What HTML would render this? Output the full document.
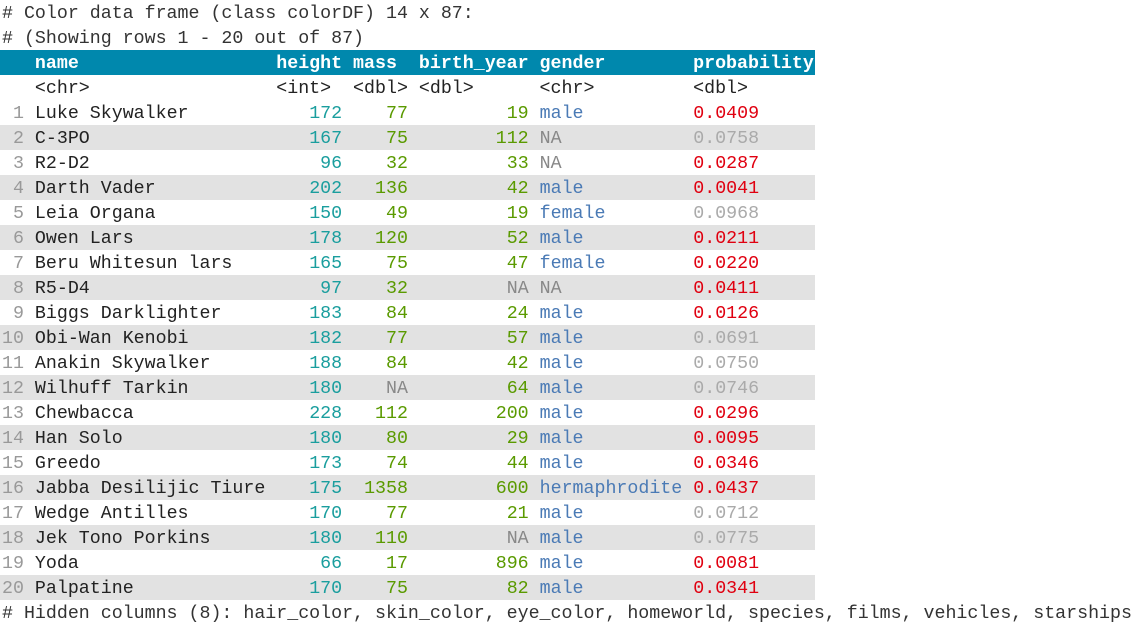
<!DOCTYPE html>
<html><head><meta charset="utf-8"><style>
body{margin:0;background:#fff;width:1142px;height:627px;overflow:hidden}
pre{margin:0;position:absolute;left:2px;top:0;font-family:"Liberation Mono","DejaVu Sans Mono",monospace;font-size:18.3px;line-height:28px;color:#222}
.l{display:block;height:25px;width:813px;margin-left:-2px;padding-left:2px;overflow:visible}
.s{background:#e2e2e2}
.h{background:#0088ad;color:#fff;font-weight:bold}
.n{color:#999}.t{color:#1a9e9e}.g{color:#5a9a00}.b{color:#4a7ab5}.r{color:#e00010}.x{color:#aaa}.na{color:#888}
.w{width:1140px}.c{color:#333}
</style></head><body><pre><span class="l w c"># Color data frame (class colorDF) 14 x 87:</span><span class="l w c"># (Showing rows 1 - 20 out of 87)</span><span class="l h">   name                  height mass  birth_year gender        probability</span><span class="l">   &lt;chr&gt;                 &lt;int&gt;  &lt;dbl&gt; &lt;dbl&gt;      &lt;chr&gt;         &lt;dbl&gt;</span><span class="l"><span class="n"> 1</span> Luke Skywalker           <span class="t">172</span>    <span class="g">77</span>         <span class="g">19</span> <span class="b">male</span>          <span class="r">0.0409</span></span><span class="l s"><span class="n"> 2</span> C-3PO                    <span class="t">167</span>    <span class="g">75</span>        <span class="g">112</span> <span class="na">NA</span>            <span class="x">0.0758</span></span><span class="l"><span class="n"> 3</span> R2-D2                     <span class="t">96</span>    <span class="g">32</span>         <span class="g">33</span> <span class="na">NA</span>            <span class="r">0.0287</span></span><span class="l s"><span class="n"> 4</span> Darth Vader              <span class="t">202</span>   <span class="g">136</span>         <span class="g">42</span> <span class="b">male</span>          <span class="r">0.0041</span></span><span class="l"><span class="n"> 5</span> Leia Organa              <span class="t">150</span>    <span class="g">49</span>         <span class="g">19</span> <span class="b">female</span>        <span class="x">0.0968</span></span><span class="l s"><span class="n"> 6</span> Owen Lars                <span class="t">178</span>   <span class="g">120</span>         <span class="g">52</span> <span class="b">male</span>          <span class="r">0.0211</span></span><span class="l"><span class="n"> 7</span> Beru Whitesun lars       <span class="t">165</span>    <span class="g">75</span>         <span class="g">47</span> <span class="b">female</span>        <span class="r">0.0220</span></span><span class="l s"><span class="n"> 8</span> R5-D4                     <span class="t">97</span>    <span class="g">32</span>         <span class="na">NA</span> <span class="na">NA</span>            <span class="r">0.0411</span></span><span class="l"><span class="n"> 9</span> Biggs Darklighter        <span class="t">183</span>    <span class="g">84</span>         <span class="g">24</span> <span class="b">male</span>          <span class="r">0.0126</span></span><span class="l s"><span class="n">10</span> Obi-Wan Kenobi           <span class="t">182</span>    <span class="g">77</span>         <span class="g">57</span> <span class="b">male</span>          <span class="x">0.0691</span></span><span class="l"><span class="n">11</span> Anakin Skywalker         <span class="t">188</span>    <span class="g">84</span>         <span class="g">42</span> <span class="b">male</span>          <span class="x">0.0750</span></span><span class="l s"><span class="n">12</span> Wilhuff Tarkin           <span class="t">180</span>    <span class="na">NA</span>         <span class="g">64</span> <span class="b">male</span>          <span class="x">0.0746</span></span><span class="l"><span class="n">13</span> Chewbacca                <span class="t">228</span>   <span class="g">112</span>        <span class="g">200</span> <span class="b">male</span>          <span class="r">0.0296</span></span><span class="l s"><span class="n">14</span> Han Solo                 <span class="t">180</span>    <span class="g">80</span>         <span class="g">29</span> <span class="b">male</span>          <span class="r">0.0095</span></span><span class="l"><span class="n">15</span> Greedo                   <span class="t">173</span>    <span class="g">74</span>         <span class="g">44</span> <span class="b">male</span>          <span class="r">0.0346</span></span><span class="l s"><span class="n">16</span> Jabba Desilijic Tiure    <span class="t">175</span>  <span class="g">1358</span>        <span class="g">600</span> <span class="b">hermaphrodite</span> <span class="r">0.0437</span></span><span class="l"><span class="n">17</span> Wedge Antilles           <span class="t">170</span>    <span class="g">77</span>         <span class="g">21</span> <span class="b">male</span>          <span class="x">0.0712</span></span><span class="l s"><span class="n">18</span> Jek Tono Porkins         <span class="t">180</span>   <span class="g">110</span>         <span class="na">NA</span> <span class="b">male</span>          <span class="x">0.0775</span></span><span class="l"><span class="n">19</span> Yoda                      <span class="t">66</span>    <span class="g">17</span>        <span class="g">896</span> <span class="b">male</span>          <span class="r">0.0081</span></span><span class="l s"><span class="n">20</span> Palpatine                <span class="t">170</span>    <span class="g">75</span>         <span class="g">82</span> <span class="b">male</span>          <span class="r">0.0341</span></span><span class="l w c"># Hidden columns (8): hair_color, skin_color, eye_color, homeworld, species, films, vehicles, starships</span></pre></body></html>
